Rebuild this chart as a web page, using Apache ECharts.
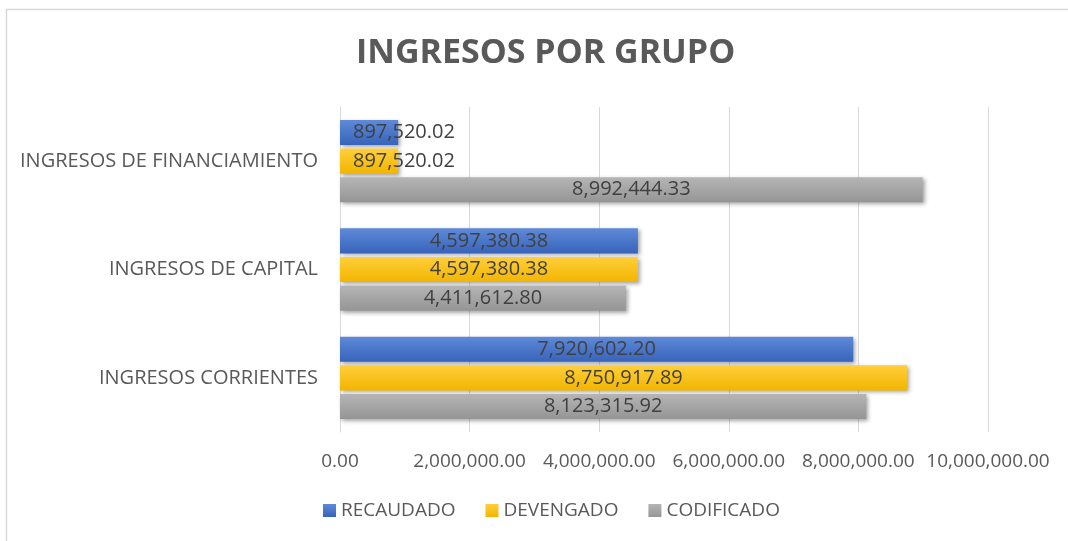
<!DOCTYPE html>
<html>
<head>
<meta charset="utf-8">
<script src="https://cdn.jsdelivr.net/npm/echarts@6/dist/echarts.min.js"></script>
<style>
  html, body { margin: 0; padding: 0; background: #fff; }
  #main { width: 1068px; height: 541px; }
</style>
</head>
<body>
<div id="main"></div>
<script>
var categories = ['INGRESOS CORRIENTES', 'INGRESOS DE CAPITAL', 'INGRESOS DE FINANCIAMIENTO'];
var recaudado = [7920602.20, 4597380.38, 897520.02];
var devengado = [8750917.89, 4597380.38, 897520.02];
var codificado = [8123315.92, 4411612.80, 8992444.33];

var FONT = 'Open Sans';
var chart = echarts.init(document.getElementById('main'));

function fmt(v) {
  return v.toLocaleString('en-US', { minimumFractionDigits: 2, maximumFractionDigits: 2 });
}

function grad(top, bottom) {
  return new echarts.graphic.LinearGradient(0, 0, 0, 1, [
    { offset: 0, color: top },
    { offset: 1, color: bottom }
  ]);
}

// small bars: label spills out to the right like in Excel
function toData(arr) {
  return arr.map(function (v) {
    if (v < 1500000) {
      return { value: v, label: { position: 'insideLeft', distance: 13 } };
    }
    return v;
  });
}

function makeSeries(name, arr, top, bottom) {
  return {
    name: name,
    type: 'bar',
    data: toData(arr),
    barGap: '14%',
    barCategoryGap: '24%',
    itemStyle: {
      color: grad(top, bottom),
      shadowBlur: 4,
      shadowOffsetX: 2,
      shadowOffsetY: 2,
      shadowColor: 'rgba(0,0,0,0.35)'
    },
    label: {
      show: true,
      position: 'inside',
      color: '#404040',
      fontFamily: FONT,
      fontSize: 20,
      formatter: function (p) { return fmt(p.value); }
    }
  };
}

var option = {
  backgroundColor: '#fff',
  animation: false,
  title: {
    text: 'INGRESOS POR GRUPO',
    left: 351,
    top: 31,
    textStyle: { fontFamily: FONT, fontWeight: 'bold', fontSize: 34, color: '#595959' }
  },
  legend: {
    bottom: 16,
    left: 318,
    itemWidth: 13,
    itemHeight: 13,
    itemGap: 30,
    icon: 'rect',
    textStyle: { fontFamily: FONT, fontSize: 19, color: '#595959' }
  },
  grid: { left: 340, right: 80, top: 107, bottom: 109 },
  xAxis: {
    type: 'value',
    min: 0,
    max: 10000000,
    interval: 2000000,
    axisLine: { show: false },
    axisTick: { show: false },
    splitLine: { lineStyle: { color: '#d9d9d9' } },
    axisLabel: {
      margin: 20,
      fontFamily: FONT,
      fontSize: 19,
      color: '#595959',
      formatter: function (v) { return fmt(v); }
    }
  },
  yAxis: {
    type: 'category',
    data: categories,
    axisLine: { show: true, lineStyle: { color: '#d9d9d9' } },
    axisTick: { show: false },
    axisLabel: { margin: 22, fontFamily: FONT, fontSize: 20, color: '#595959' }
  },
  graphic: [{
    type: 'rect',
    shape: { x: 6.5, y: 9.5, width: 1100, height: 600 },
    style: { fill: 'none', stroke: '#d9d9d9', lineWidth: 1.5 },
    silent: true
  }],
  series: [
    makeSeries('RECAUDADO', recaudado, '#5f8ad8', '#3763ba'),
    makeSeries('DEVENGADO', devengado, '#ffcf3a', '#f2b500'),
    makeSeries('CODIFICADO', codificado, '#b5b5b5', '#959595')
  ]
};

chart.setOption(option);
</script>
</body>
</html>
